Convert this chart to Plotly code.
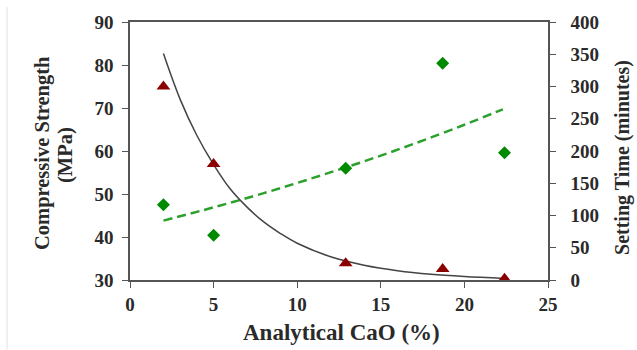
import plotly.graph_objects as go

# Data
cao = [2.0, 5.0, 12.9, 18.7, 22.4]
strength_mpa = [47.5, 40.4, 56.0, 80.4, 59.6]
setting_min = [300, 180, 26, 17, 2]

# Trend curves
trend_set_x = [2.0, 3.0, 4.0, 5.0, 6.0, 7.0, 8.0, 9.0, 10.0, 12.0, 14.0, 16.0, 18.0, 20.0, 22.4]
trend_set_y = [351, 280, 224, 179, 141, 113, 90, 72, 57, 36, 23, 14.5, 9, 5.5, 2.5]
trend_str_x = [2.0, 5.0, 8.0, 11.0, 14.0, 17.0, 20.0, 22.3]
trend_str_y = [43.8, 46.9, 50.2, 53.8, 57.6, 61.7, 66.1, 69.7]

xticks = [0, 5, 10, 15, 20, 25]
font = "Liberation Serif"
axcol = "#555555"
txtcol = "#2a2a2a"

fig = go.Figure()
fig.add_trace(go.Scatter(x=trend_str_x, y=trend_str_y, mode="lines", line=dict(color="#2ca02c", width=2.5, dash="9px,5px", shape="spline"), yaxis="y", showlegend=False))
fig.add_trace(go.Scatter(x=trend_set_x, y=trend_set_y, mode="lines", line=dict(color="#444444", width=1.5, shape="spline"), yaxis="y2", showlegend=False))
fig.add_trace(go.Scatter(x=cao, y=strength_mpa, mode="markers", marker=dict(symbol="diamond", size=10, color="#008a00"), yaxis="y", showlegend=False))
fig.add_trace(go.Scatter(x=cao, y=setting_min, mode="markers", marker=dict(symbol="triangle-up", size=12, color="#8b0000"), yaxis="y2", showlegend=False, cliponaxis=False))

tickfont = dict(family=font, size=19, color=txtcol, weight="bold")
fig.update_layout(
    width=637, height=350,
    margin=dict(l=130, r=89, t=20, b=70),
    paper_bgcolor="white", plot_bgcolor="white",
    xaxis=dict(range=[0, 25], tickvals=xticks, showgrid=False, zeroline=False, showline=True, linecolor=axcol, linewidth=1.5,
               mirror=True, ticks="outside", ticklen=6, tickcolor=axcol, tickfont=tickfont),
    yaxis=dict(range=[30, 90], dtick=10, showgrid=False, zeroline=False, showline=True, linecolor=axcol, linewidth=1.5,
               ticks="outside", ticklen=6, tickcolor=axcol, tickfont=tickfont, ticklabelstandoff=5),
    yaxis2=dict(range=[0, 400], dtick=50, overlaying="y", side="right", showgrid=False, zeroline=False, showline=True,
                linecolor=axcol, linewidth=1.5, ticks="outside", ticklen=6, tickcolor=axcol, tickfont=tickfont,
                ticklabelstandoff=11),
)

def ann(text, px, py, size, angle):
    fig.add_annotation(text=text, xref="paper", yref="paper", x=(px - 130) / 418, y=(280 - py) / 260,
                       textangle=angle, showarrow=False, xanchor="center", yanchor="middle",
                       font=dict(family=font, size=size, color=txtcol, weight="bold"))

ann("Compressive Strength", 43, 152, 20.5, -90)
ann("(MPa)", 66, 154, 20.5, -90)
ann("Setting Time (minutes)", 623, 157, 20, -90)
ann("Analytical CaO (%)", 341, 333, 23, 0)

fig.add_shape(type="line", xref="paper", yref="paper", x0=(7 - 130) / 418, x1=(7 - 130) / 418, y0=-70 / 260, y1=1 + 15 / 260,
              line=dict(color="#e0e0e0", width=1))

fig.write_html("out.html")
